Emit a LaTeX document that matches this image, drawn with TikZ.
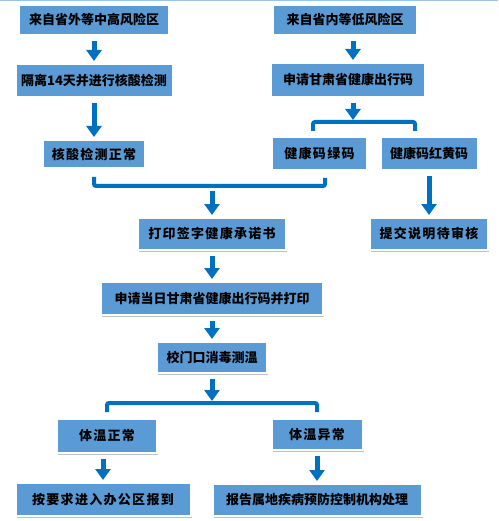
\documentclass[tikz,border=0pt]{standalone}
\usepackage{fontspec}
\newfontfamily\cjk{Noto Sans CJK SC}
\newfontfamily\cjkwide{Noto Sans CJK SC}[LetterSpace=10]
\usetikzlibrary{arrows.meta, shadows}
\definecolor{boxblue}{HTML}{5B9BD5}
\definecolor{flowblue}{HTML}{0070C0}
\definecolor{rimblue}{HTML}{9DC3E6}

\begin{document}
\begin{tikzpicture}[x=1pt, y=-1pt,
    box/.style={rectangle, fill=boxblue, draw=white, line width=2pt, inner sep=0pt,
      font=\cjk\bfseries\fontsize{13}{15}\selectfont, text=black,
      drop shadow={shadow xshift=1pt, shadow yshift=-1.5pt, fill=gray!50, opacity=1}},
    wide/.style={font=\cjkwide\bfseries\fontsize{13}{15}\selectfont},
    flow/.style={draw=flowblue, line width=5pt, -{Triangle[width=15pt, length=11pt]},
      shorten <=5pt, shorten >=2pt},
    fork/.style={draw=flowblue, line width=4pt, rounded corners=2pt}]
  \useasboundingbox (0,0) rectangle (498,521);
  \draw[rimblue, line width=1.5pt] (0,0.75) -- (498,0.75);

  % left column
  \node[box, minimum width=150pt, minimum height=30pt] (high) at (94,20) {来自省外等中高风险区};
  \node[box, minimum width=157pt, minimum height=33pt] (quar) at (94,80.5) {隔离14天并进行核酸检测};
  \node[box, wide, minimum width=102pt, minimum height=28pt] (nat) at (94,154) {核酸检测正常};
  % right column
  \node[box, minimum width=144pt, minimum height=30pt] (low) at (345,20) {来自省内等低风险区};
  \node[box, minimum width=154pt, minimum height=34pt] (apply) at (348,80) {申请甘肃省健康出行码};
  \node[box, wide, minimum width=95pt, minimum height=33pt] (green) at (319.5,153.5) {健康码绿码};
  \node[box, minimum width=97pt, minimum height=33pt] (red) at (429,153.5) {健康码红黄码};
  \node[box, wide, minimum width=118pt, minimum height=32pt] (submit) at (429,234) {提交说明待审核};
  % middle
  \node[box, wide, minimum width=148pt, minimum height=32pt] (promise) at (212,234) {打印签字健康承诺书};
  \node[box, minimum width=222pt, minimum height=33pt] (daily) at (212,298.5) {申请当日甘肃省健康出行码并打印};
  \node[box, minimum width=110pt, minimum height=31pt] (gate) at (212,357.5) {校门口消毒测温};
  \node[box, wide, minimum width=100pt, minimum height=34pt] (normal) at (107,436) {体温正常};
  \node[box, wide, minimum width=91pt, minimum height=31pt] (abnormal) at (317,434.5) {体温异常};
  \node[box, wide, minimum width=175pt, minimum height=33pt] (office) at (103,499.5) {按要求进入办公区报到};
  \node[box, minimum width=209pt, minimum height=32pt] (report) at (317,500) {报告属地疾病预防控制机构处理};

  \coordinate (f1) at (353,122);
  \coordinate (f2) at (212,186);
  \coordinate (f3) at (212,403);

  \draw[flow] (high) -- (quar);
  \draw[flow] (quar) -- (nat);
  \draw[flow] ([xshift=8pt]low.south) -- ([xshift=5pt]apply.north);
  \draw[flow] ([xshift=5pt]apply.south) -- (f1);
  \draw[fork] ([xshift=-6.5pt, yshift=5pt]green.north) |- (f1) -| ([xshift=-14pt, yshift=5pt]red.north);
  \draw[fork] ([yshift=-8pt]nat.south) |- (f2) -| ([xshift=5.5pt, yshift=-7pt]green.south);
  \draw[flow] (f2) -- (promise);
  \draw[flow] (red) -- (submit);
  \draw[flow] (promise) -- (daily);
  \draw[flow] (daily) -- (gate);
  \draw[flow] (gate) -- (f3);
  \draw[fork] ([yshift=6pt]normal.north) |- (f3) -| ([yshift=6pt]abnormal.north);
  \draw[flow] ([xshift=-4pt]normal.south) -- (office);
  \draw[flow] (abnormal) -- (report);
\end{tikzpicture}
\end{document}
